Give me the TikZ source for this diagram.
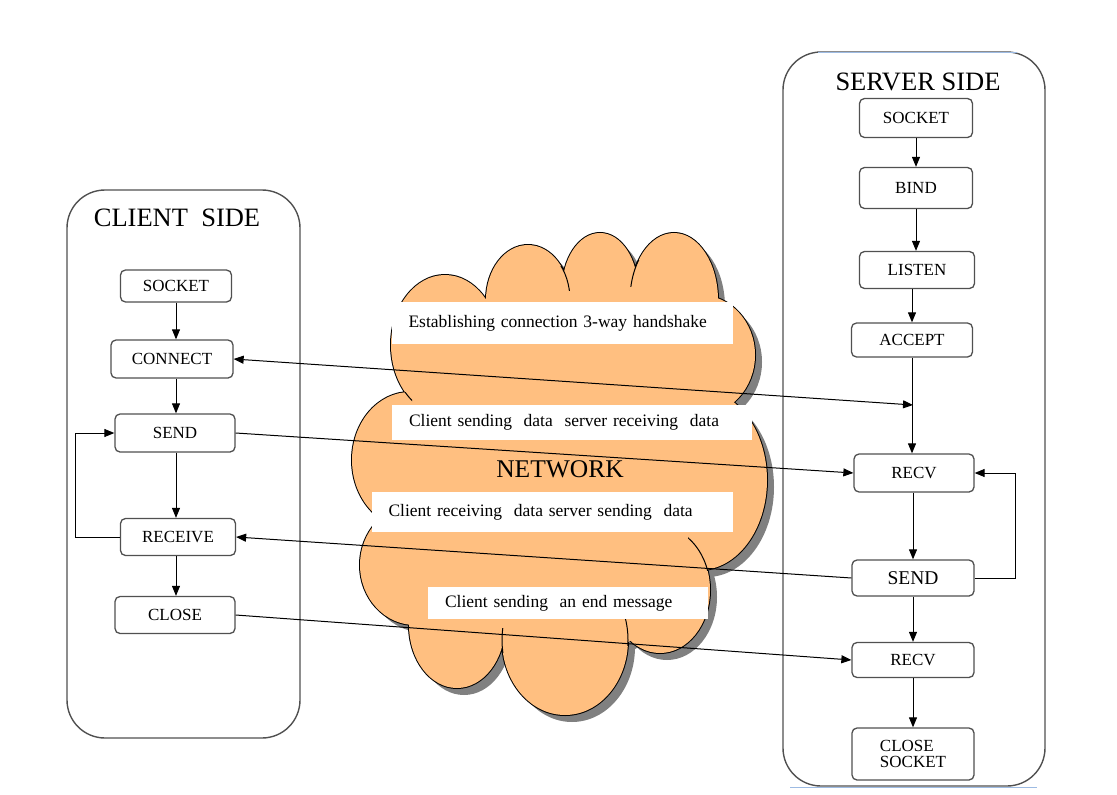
\documentclass[tikz,border=0pt]{standalone}
\usepackage{fontspec}
\setmainfont{Liberation Serif}
\usetikzlibrary{arrows.meta}
\definecolor{cloudfill}{HTML}{FFBF80}
\definecolor{edgegray}{HTML}{505050}
\definecolor{markblue}{HTML}{9DBBE3}
\def\pA{(445,345) ellipse [x radius=54pt, y radius=70pt]}
\def\pB{(528,300) ellipse [x radius=42pt, y radius=55pt]}
\def\pC{(600,290) ellipse [x radius=38pt, y radius=57pt]}
\def\pD{(674,300) ellipse [x radius=44pt, y radius=67pt]}
\def\pE{(700,355) ellipse [x radius=55pt, y radius=60pt]}
\def\pF{(700,480) ellipse [x radius=67pt, y radius=90pt]}
\def\pG{(660,590) ellipse [x radius=50pt, y radius=63pt]}
\def\pH{(565,640) ellipse [x radius=63pt, y radius=75pt]}
\def\pI{(457,625) ellipse [x radius=48pt, y radius=63pt]}
\def\pJ{(415,565) ellipse [x radius=55pt, y radius=60pt]}
\def\pK{(410,460) ellipse [x radius=58pt, y radius=68pt]}
\def\puffs{\pA \pB \pC \pD \pE \pF \pG \pH \pI \pJ \pK}
\begin{document}
\begin{tikzpicture}[x=1pt,y=-1pt,
  stepbox/.style={draw=edgegray, line width=1.3pt, rounded corners=5pt, fill=white, inner sep=0pt, font=\fontsize{17}{18}\selectfont},
  sidebox/.style={draw=edgegray, line width=1.4pt, rounded corners=38pt},
  arr/.style={-{Triangle[length=10pt,width=8pt]}, line width=1pt},
  dblarr/.style={{Triangle[length=10pt,width=8pt]}-{Triangle[length=10pt,width=8pt]}, line width=1pt},
  labbox/.style={fill=white, inner xsep=17pt, inner ysep=0pt, align=left, font=\fontsize{17.5}{19}\selectfont},
  title/.style={font=\fontsize{26.5}{28}\selectfont},
  tail/.style={draw=black, line width=1pt}
]
\useasboundingbox (0,0) rectangle (1117,795);

% side frames
\draw[sidebox] (67,190) rectangle (300,738);
\draw[sidebox] (783,52) rectangle (1045,786);
\draw[markblue, line width=1pt] (818,52) -- (1017,52);
\draw[markblue, line width=1pt] (790,787) -- (1037,787);
\node[title] (ctitle) at (177,218) {CLIENT\ \ SIDE};
\node[title] (stitle) at (918,82) {SERVER SIDE};

% cloud: union of puffs, with shadow and outer outline
\begin{scope}[shift={(7,7)}]
  \fill[gray] \puffs;
  \fill[gray] (560,470) ellipse [x radius=160pt, y radius=190pt];
\end{scope}
\draw[black, line width=2pt] \puffs;
\fill[cloudfill] \puffs;
\fill[cloudfill] (560,470) ellipse [x radius=160pt, y radius=190pt];
% short inner arc ends between puffs
\begin{scope}\clip (385,392) rectangle (412,420); \path[tail] \pA; \end{scope}
\begin{scope}\clip (558,266) rectangle (574,290); \path[tail] \pB; \end{scope}
\begin{scope}\clip (624,260) rectangle (640,286); \path[tail] \pD; \end{scope}
\begin{scope}\clip (688,530) rectangle (712,570); \path[tail] \pG; \end{scope}
\begin{scope}\clip (612,615) rectangle (632,645); \path[tail] \pH; \end{scope}
\begin{scope}\clip (497,628) rectangle (512,652); \path[tail] \pH; \end{scope}

% client nodes
\node[stepbox, minimum width=111pt, minimum height=32pt] (csock) at (176,286) {SOCKET};
\node[stepbox, minimum width=122pt, minimum height=38pt] (cconn) at (172,359) {CONNECT};
\node[stepbox, minimum width=120pt, minimum height=38pt] (csend) at (175,433) {SEND};
\node[stepbox, minimum width=115pt, minimum height=37pt] (crec) at (178,537) {RECEIVE};
\node[stepbox, minimum width=120pt, minimum height=37pt] (cclose) at (175,615) {CLOSE};

% server nodes
\node[stepbox, minimum width=113pt, minimum height=39pt] (ssock) at (916,118) {SOCKET};
\node[stepbox, minimum width=113pt, minimum height=41pt] (sbind) at (916,188) {BIND};
\node[stepbox, minimum width=115pt, minimum height=37pt] (slisten) at (917,270) {LISTEN};
\node[stepbox, minimum width=121pt, minimum height=34pt] (saccept) at (912,340) {ACCEPT};
\node[stepbox, minimum width=120pt, minimum height=38pt] (srecv1) at (914,473) {RECV};
\node[stepbox, minimum width=122pt, minimum height=36pt, font=\fontsize{19.5}{21}\selectfont] (ssend) at (913,578) {SEND};
\node[stepbox, minimum width=122pt, minimum height=35pt] (srecv2) at (913,660) {RECV};
\node[stepbox, minimum width=122pt, minimum height=52pt, align=left, font=\fontsize{17}{16}\selectfont] (sclose) at (913,754) {CLOSE\\SOCKET};
\coordinate (acc) at (913,405);

% client flow
\draw[arr] (csock.south) -- (csock.south |- cconn.north);
\draw[arr] (cconn.south -| csock.south) -- (csock.south |- csend.north);
\draw[arr] (csend.south -| csock.south) -- (csock.south |- crec.north);
\draw[arr] (crec.south -| csock.south) -- (csock.south |- cclose.north);
\draw[arr] (crec.west) -- ++(-44,0) |- (csend.west);

% server flow
\draw[arr] (ssock.south) -- (ssock.south |- sbind.north);
\draw[arr] (sbind.south) -- (sbind.south |- slisten.north);
\draw[arr] (slisten.south -| saccept.south) -- (saccept.north);
\draw[arr] (saccept.south) -- (saccept.south |- srecv1.north);
\draw[arr] (srecv1.south -| ssend.north) -- (ssend.north);
\draw[arr] (ssend.south) -- (srecv2.north);
\draw[arr] (srecv2.south) -- (sclose.north);
\draw[arr] (ssend.east) -- ++(41,0) |- (srecv1.east);

% cross connections
\draw[dblarr] (cconn.east) -- (acc);
\draw[arr] (csend.east) -- (srecv1.west);
\draw[arr] (ssend.west) -- (crec.east);
\draw[arr] (cclose.east) -- (srecv2.west);

% labels in cloud
\node[labbox, text width=307pt, minimum height=42pt] (lab1) at (562,323) {Establishing connection 3-way handshake};
\node[labbox, text width=326pt, minimum height=35pt] (lab2) at (572,422) {Client sending\ \ data\ \ server receiving\ \ data};
\node[labbox, text width=327pt, minimum height=40pt] (lab3) at (552,512) {Client receiving\ \ data\ server sending\ \ data};
\node[labbox, text width=246pt, minimum height=32pt] (lab4) at (568,603) {Client sending\ \ an end message};
\node[font=\fontsize{25.5}{27}\selectfont] (netlbl) at (560,469) {NETWORK};
\end{tikzpicture}
\end{document}
